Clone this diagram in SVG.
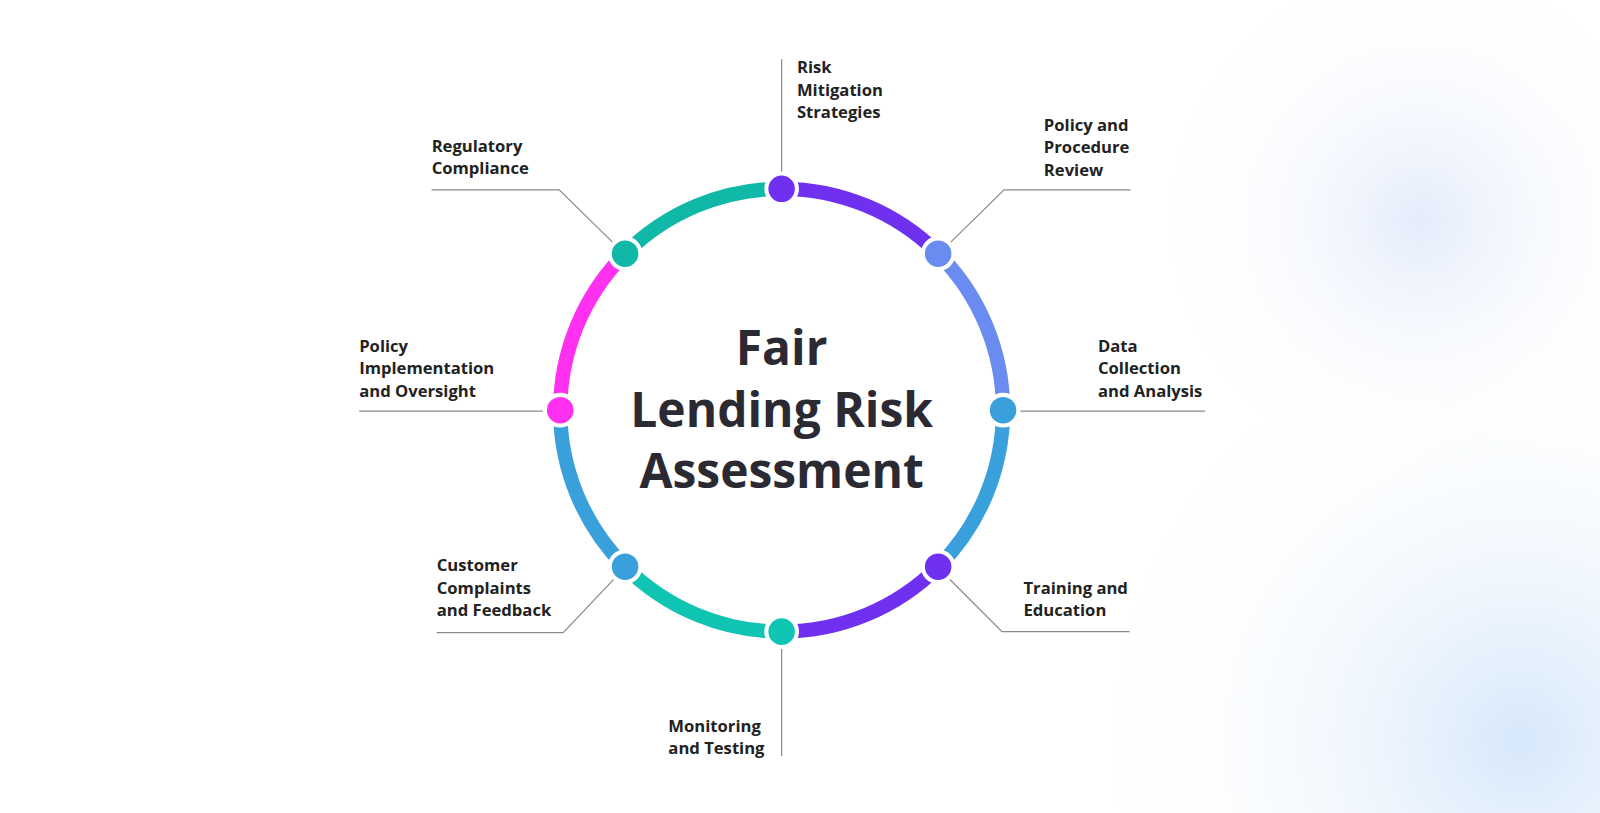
<svg xmlns="http://www.w3.org/2000/svg" width="1600" height="813" viewBox="0 0 1600 813">
<defs>
<radialGradient id="bg1" cx="1420" cy="220" r="260" gradientUnits="userSpaceOnUse"><stop offset="0" stop-color="#e4ecfb"/><stop offset="1" stop-color="#ffffff" stop-opacity="0"/></radialGradient>
<radialGradient id="bg2" cx="1520" cy="740" r="420" gradientUnits="userSpaceOnUse"><stop offset="0" stop-color="#d6e8fb"/><stop offset="1" stop-color="#ffffff" stop-opacity="0"/></radialGradient>
<style>
.arc{fill:none;stroke-width:14;}
.node{stroke:#fff;stroke-width:4;}
.ln{fill:none;stroke:#8a8a8a;stroke-width:1.2;}
.lb{font-family:"Open Sans","Liberation Sans",sans-serif;font-weight:700;font-size:16.3px;fill:#222;}
.tt{font-family:"Open Sans","Liberation Sans",sans-serif;font-weight:700;font-size:47px;fill:#2b2a33;text-anchor:middle;}
</style>
</defs>
<rect width="1600" height="813" fill="#fff"/>
<rect width="1600" height="813" fill="url(#bg1)"/>
<rect width="1600" height="813" fill="url(#bg2)"/>
<g transform="scale(1.0204)">
<g id="connectors">
<path class="arc" stroke="#7030f0" d="M766 185 A217 217 0 0 1 919.4 248.6"/>
<path class="arc" stroke="#6a8cf0" d="M919.4 248.6 A217 217 0 0 1 983 402"/>
<path class="arc" stroke="#3aa0dc" d="M983 402 A217 217 0 0 1 919.4 555.4"/>
<path class="arc" stroke="#7030f0" d="M919.4 555.4 A217 217 0 0 1 766 619"/>
<path class="arc" stroke="#10c4b4" d="M766 619 A217 217 0 0 1 612.6 555.4"/>
<path class="arc" stroke="#3aa0dc" d="M612.6 555.4 A217 217 0 0 1 549 402"/>
<path class="arc" stroke="#ff30f0" d="M549 402 A217 217 0 0 1 612.6 248.6"/>
<path class="arc" stroke="#10b8a8" d="M612.6 248.6 A217 217 0 0 1 766 185"/>
<path class="ln" d="M766 58 V170"/>
<path class="ln" d="M929 240 L984 186 H1108"/>
<path class="ln" d="M998 403 H1181"/>
<path class="ln" d="M929 566 L982 619 H1107"/>
<path class="ln" d="M766 634 V741"/>
<path class="ln" d="M603 566 L552 620 H428"/>
<path class="ln" d="M352 403 H534"/>
<path class="ln" d="M603 240 L548 186 H423"/>
</g>
<g id="n1"><circle class="node" cx="766" cy="185" r="15" fill="#7030f0"/><text class="lb" x="781" y="72">Risk</text><text class="lb" x="781" y="94">Mitigation</text><text class="lb" x="781" y="116">Strategies</text></g>
<g id="n2"><circle class="node" cx="919.4" cy="248.6" r="15" fill="#6a8cf0"/><text class="lb" x="1023" y="128">Policy and</text><text class="lb" x="1023" y="150">Procedure</text><text class="lb" x="1023" y="172">Review</text></g>
<g id="n3"><circle class="node" cx="983" cy="402" r="15" fill="#3aa0dc"/><text class="lb" x="1076" y="345">Data</text><text class="lb" x="1076" y="367">Collection</text><text class="lb" x="1076" y="389">and Analysis</text></g>
<g id="n4"><circle class="node" cx="919.4" cy="555.4" r="15" fill="#7030f0"/><text class="lb" x="1003" y="582">Training and</text><text class="lb" x="1003" y="604">Education</text></g>
<g id="n5"><circle class="node" cx="766" cy="619" r="15" fill="#10c4b4"/><text class="lb" x="655" y="717">Monitoring</text><text class="lb" x="655" y="739">and Testing</text></g>
<g id="n6"><circle class="node" cx="612.6" cy="555.4" r="15" fill="#3aa0dc"/><text class="lb" x="428" y="560">Customer</text><text class="lb" x="428" y="582">Complaints</text><text class="lb" x="428" y="604">and Feedback</text></g>
<g id="n7"><circle class="node" cx="549" cy="402" r="15" fill="#ff30f0"/><text class="lb" x="352" y="345">Policy</text><text class="lb" x="352" y="367">Implementation</text><text class="lb" x="352" y="389">and Oversight</text></g>
<g id="n8"><circle class="node" cx="612.6" cy="248.6" r="15" fill="#10b8a8"/><text class="lb" x="423" y="149">Regulatory</text><text class="lb" x="423" y="171">Compliance</text></g>
<g id="title"><text class="tt" x="766" y="358">Fair</text><text class="tt" x="766" y="418">Lending Risk</text><text class="tt" x="766" y="478">Assessment</text></g>
</g>
</svg>
